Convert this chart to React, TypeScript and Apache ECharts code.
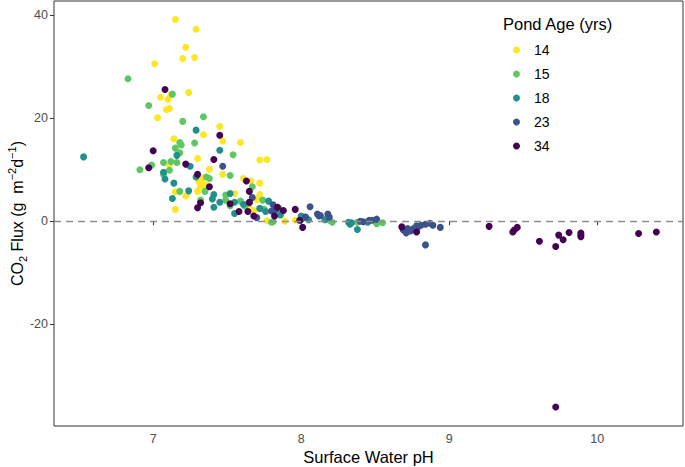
import React, { useEffect, useRef } from "react";
import * as echarts from "echarts";

const ageGroups = ["14", "15", "18", "23", "34"];
const groupColors = ["#FDE725", "#5DC863", "#21908C", "#3B528B", "#440154"];

const age14: number[][] = [
  [7.15, 39.2], [7.29, 37.3], [7.22, 33.8], [7.2, 31.6], [7.28, 31.8], [7.01, 30.6],
  [7.05, 24.1], [7.1, 23.7], [7.24, 25.0], [7.09, 21.7], [7.11, 21.9], [7.03, 20.1],
  [7.45, 18.4], [7.34, 16.8], [7.47, 15.6], [7.59, 15.3], [7.14, 16.0], [7.3, 12.2],
  [7.72, 11.9], [7.77, 12.0], [7.11, 11.0], [7.38, 10.1], [7.34, 8.5], [7.47, 9.1],
  [7.31, 7.7], [7.32, 6.8], [7.34, 7.2], [7.36, 7.0], [7.61, 8.3], [7.66, 7.8],
  [7.72, 7.4], [7.15, 5.7], [7.3, 5.8], [7.22, 4.9], [7.55, 5.4], [7.72, 5.2],
  [7.7, 4.2], [7.15, 2.3], [7.65, 2.5], [7.68, 2.1], [7.77, 0.1], [7.89, 0.0],
  [7.96, 0.2], [7.12, 24.6],
];
const age15: number[][] = [
  [6.83, 27.7], [7.13, 24.7], [6.97, 22.5], [7.2, 19.4], [7.34, 20.3], [7.18, 15.3],
  [7.19, 14.8], [7.15, 14.2], [7.18, 13.3], [7.28, 15.2], [7.54, 12.9], [6.91, 10.0],
  [6.99, 10.9], [7.07, 11.4], [7.12, 11.6], [7.16, 11.4], [7.11, 9.9], [7.07, 9.1],
  [7.36, 8.6], [7.38, 8.3], [7.52, 8.9], [7.67, 6.7], [7.18, 5.8], [7.35, 5.8],
  [7.32, 4.1], [7.32, 3.6], [7.49, 5.1], [7.49, 4.1], [7.52, 3.0], [7.59, 3.9],
  [7.74, 4.1], [7.62, 2.9], [7.75, 2.3], [7.8, -0.2], [7.81, -0.1], [7.85, 2.5],
  [8.17, 0.4], [8.19, 0.2], [8.21, -0.2], [8.38, -0.2], [8.51, -0.5], [8.55, -0.3],
];
const age18: number[][] = [
  [7.29, 17.7], [7.45, 13.8], [7.16, 12.8], [6.53, 12.5], [7.25, 10.7], [7.07, 9.5],
  [7.08, 8.2], [7.14, 7.4], [7.29, 8.6], [7.24, 5.9], [7.13, 4.4], [7.41, 5.2],
  [7.4, 4.3], [7.45, 3.7], [7.52, 5.4], [7.55, 3.7], [7.78, 3.9], [7.61, 3.3],
  [7.41, 2.7], [7.72, 2.5], [7.55, 1.5], [7.76, 1.9], [7.86, 2.0], [7.86, 1.2],
  [8.0, 0.3], [8.0, 1.0], [8.02, 0.8], [8.05, 0.3], [8.16, 0.3], [8.32, -0.2],
  [8.34, -0.3], [8.33, -0.6], [8.38, -1.6], [8.45, -0.2],
];
const age23: number[][] = [
  [7.47, 10.7], [7.67, 4.6], [7.81, 3.2], [7.7, 0.7], [7.8, 2.0], [7.65, 3.6],
  [7.82, 2.1], [8.06, 2.8], [8.03, 0.8], [8.11, 1.4], [8.13, 1.1], [8.18, 1.4],
  [8.12, 1.0], [8.19, 0.8], [8.4, 0.0], [8.42, -0.1], [8.46, 0.2], [8.48, 0.2],
  [8.51, 0.4], [8.69, -1.7], [8.71, -2.3], [8.74, -1.9], [8.76, -1.4], [8.79, -1.1],
  [8.81, -0.8], [8.84, -0.6], [8.87, -0.4], [8.89, -0.8], [8.94, -1.2], [8.84, -4.6],
  [8.72, -1.4], [8.78, -0.9],
];
const age34: number[][] = [
  [7.08, 25.6], [7.45, 16.7], [7.0, 13.7], [6.97, 10.4], [7.22, 11.1], [7.41, 12.0],
  [7.3, 9.1], [7.38, 6.7], [7.63, 7.8], [7.32, 3.6], [7.52, 3.4], [7.65, 5.8],
  [7.84, 2.7], [7.65, 3.7], [7.3, 2.6], [7.58, 1.9], [7.68, 1.0], [7.82, 1.0],
  [7.88, 2.1], [7.96, 2.3], [8.01, -1.2], [7.99, 0.2], [7.64, 1.9], [8.68, -1.1],
  [8.78, -2.1], [9.27, -1.0], [9.43, -2.1], [9.44, -1.7], [9.46, -1.2], [9.61, -3.9],
  [9.72, -4.9], [9.74, -2.7], [9.77, -3.6], [9.81, -2.2], [9.89, -2.3], [9.89, -2.7],
  [9.89, -3.0], [10.28, -2.4], [10.4, -2.1], [9.72, -36.1],
];
const groupData = [age14, age15, age18, age23, age34];

const xTicks = [7, 8, 9, 10];
const yTicks = [-20, 0, 20, 40];

export default function App() {
  const ref = useRef<HTMLDivElement>(null);
  useEffect(() => {
    if (!ref.current) return;
    const chart = echarts.init(ref.current, null, { renderer: "svg" });
    const font = "Liberation Sans, Arial, sans-serif";
    const series: any[] = ageGroups.map((g, i) => ({
      name: g,
      type: "scatter",
      data: groupData[i],
      symbol: "circle",
      symbolSize: 7,
      itemStyle: { color: groupColors[i], opacity: 1 },
      z: 3,
    }));
    series.push({
      type: "line",
      data: [],
      silent: true,
      markLine: {
        silent: true,
        symbol: "none",
        label: { show: false },
        lineStyle: { color: "#8c8c8c", type: [7, 5], width: 1.3 },
        data: [{ yAxis: 0 }],
      },
      z: 1,
    });
    chart.setOption({
      animation: false,
      textStyle: { fontFamily: font },
      grid: {
        left: 54,
        right: 2,
        top: 1,
        bottom: 41,
        outerBoundsMode: "none",
        containLabel: false,
        show: true,
        borderColor: "#333333",
        borderWidth: 1,
        backgroundColor: "#ffffff",
      },
      legend: {
        orient: "vertical",
        left: 508,
        top: 38,
        itemWidth: 7,
        itemHeight: 7,
        itemGap: 10,
        itemStyle: { borderWidth: 0 },
        icon: "circle",
        textStyle: { fontSize: 14, color: "#000", padding: [0, 0, 0, 9], lineHeight: 14, fontFamily: font },
        data: ageGroups,
      },
      graphic: [
        {
          type: "text",
          left: 503,
          top: 15,
          style: { text: "Pond Age (yrs)", font: `16.5px ${font}`, fill: "#000" },
        },
      ],
      xAxis: {
        type: "value",
        min: 6.33,
        max: 10.58,
        name: "Surface Water pH",
        nameLocation: "middle",
        nameGap: 22,
        nameMoveOverlap: false,
        nameTextStyle: { fontSize: 16.5, color: "#000", fontFamily: font },
        axisLine: { show: false },
        splitLine: { show: false },
        axisTick: { show: true, length: 4, customValues: xTicks, lineStyle: { color: "#333" } },
        axisLabel: { customValues: xTicks, color: "#4d4d4d", fontSize: 12.5, margin: 6, fontFamily: font },
      },
      yAxis: {
        type: "value",
        min: -39.8,
        max: 42.8,
        name: "{a|CO}{sub|2}{a| Flux (g  m}{sup|−2}{a|d}{sup|−1}{a|)}",
        nameLocation: "middle",
        nameGap: 26,
        nameMoveOverlap: false,
        nameRotate: 90,
        nameTextStyle: {
          fontFamily: font,
          rich: {
            a: { fontSize: 16, color: "#000", lineHeight: 22, fontFamily: font },
            sub: { fontSize: 11, color: "#000", lineHeight: 22, verticalAlign: "bottom", fontFamily: font },
            sup: { fontSize: 11, color: "#000", lineHeight: 22, verticalAlign: "top", fontFamily: font },
          },
        },
        axisLine: { show: false },
        splitLine: { show: false },
        axisTick: { show: true, length: 4, customValues: yTicks, lineStyle: { color: "#333" } },
        axisLabel: { customValues: yTicks, color: "#4d4d4d", fontSize: 12.5, margin: 6, fontFamily: font },
      },
      series,
    });
    return () => chart.dispose();
  }, []);
  return (
    <div
      ref={ref}
      style={{ position: "fixed", left: 0, top: 0, width: 685, height: 467, background: "#fff" }}
    />
  );
}
